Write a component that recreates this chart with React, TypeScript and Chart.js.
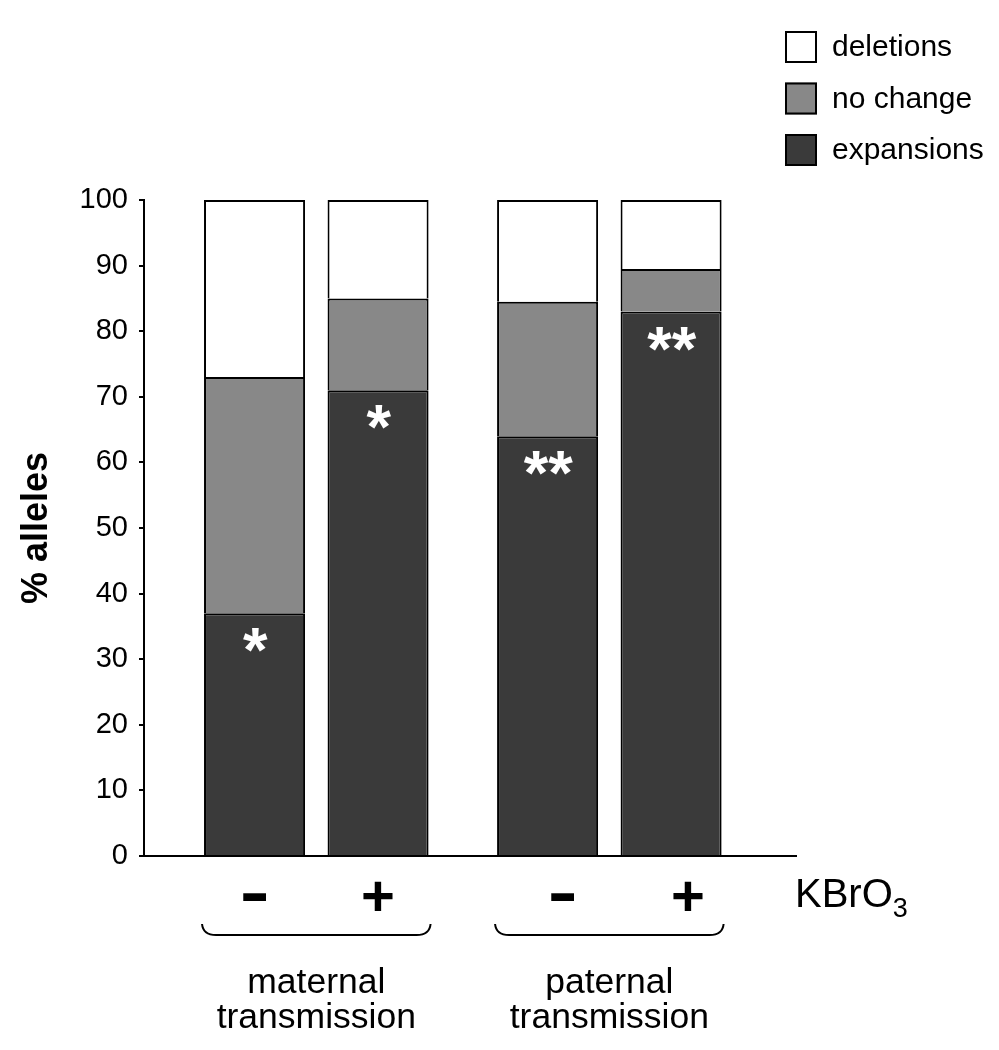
import React, { useEffect, useRef } from "react";
import { Chart, registerables } from "chart.js";

Chart.register(...registerables);

// ---- data ----
const groupLabels = [["maternal", "transmission"], ["paternal", "transmission"]];
const treatments = ["-", "+"]; // KBrO3 absent / present
const seriesNames = ["expansions", "no change", "deletions"];
const seriesColors = ["#3a3a3a", "#888888", "#ffffff"];

// values per group [maternal, paternal]
const expansionsMinus = [37, 64];
const expansionsPlus = [71, 83];
const noChangeMinus = [36, 20.5];
const noChangePlus = [14, 6.5];
const deletionsMinus = [27, 15.5];
const deletionsPlus = [15, 10.5];

const significanceMinus = ["*", "**"];
const significancePlus = ["*", "**"];

const yTicks = [0, 10, 20, 30, 40, 50, 60, 70, 80, 90, 100];
const yTitle = "% alleles";
const treatmentTitle = "KBrO";
const treatmentSub = "3";

const FONT = "'Liberation Sans', Arial, Helvetica, sans-serif";

const valuesBySeries: Record<string, number[][]> = {
  expansions: [expansionsMinus, expansionsPlus],
  "no change": [noChangeMinus, noChangePlus],
  deletions: [deletionsMinus, deletionsPlus],
};
const significance = [significanceMinus, significancePlus];

function centeredText(ctx: CanvasRenderingContext2D, s: string, cx: number, cy: number, sx = 1) {
  const m = ctx.measureText(s);
  const h = m.actualBoundingBoxAscent - m.actualBoundingBoxDescent;
  const w = m.actualBoundingBoxRight + m.actualBoundingBoxLeft;
  ctx.save();
  ctx.translate(cx, cy);
  ctx.scale(sx, 1);
  ctx.textAlign = "left";
  ctx.textBaseline = "alphabetic";
  ctx.fillText(s, -w / 2 + m.actualBoundingBoxLeft, h / 2);
  ctx.restore();
}

const decorPlugin = {
  id: "decor",
  afterDatasetsDraw(chart: any) {
    const ctx: CanvasRenderingContext2D = chart.ctx;
    const area = chart.chartArea;
    // dataset index = t * 3 + s ; s = 0 is expansions (bottom segment)
    const barAt = (t: number, g: number) => chart.getDatasetMeta(t * 3 + 0).data[g];

    // significance asterisks
    ctx.save();
    ctx.fillStyle = "#ffffff";
    ctx.font = `bold 63px ${FONT}`;
    treatments.forEach((_, t) => {
      groupLabels.forEach((_, g) => {
        const b: any = barAt(t, g);
        centeredText(ctx, significance[t][g], b.x + 1, b.y + 27);
      });
    });
    ctx.restore();

    // treatment labels, braces, group labels
    ctx.save();
    ctx.fillStyle = "#000";
    ctx.strokeStyle = "#000";
    groupLabels.forEach((lines, g) => {
      const bm: any = barAt(0, g);
      const bp: any = barAt(1, g);
      ctx.font = `bold 64px ${FONT}`;
      centeredText(ctx, treatments[0], bm.x, area.bottom + 41, 1.4);
      ctx.font = `bold 58px ${FONT}`;
      centeredText(ctx, treatments[1], bp.x, area.bottom + 40);

      const left = bm.x - bm.width / 2 - 2;
      const right = bp.x + bp.width / 2 + 2;
      const yTop = area.bottom + 68;
      const yLine = area.bottom + 79;
      ctx.lineWidth = 2;
      ctx.beginPath();
      ctx.moveTo(left, yTop);
      ctx.quadraticCurveTo(left + 1, yLine, left + 14, yLine);
      ctx.lineTo(right - 14, yLine);
      ctx.quadraticCurveTo(right - 1, yLine, right, yTop);
      ctx.stroke();

      const cx = (bm.x + bp.x) / 2;
      ctx.font = `35.5px ${FONT}`;
      ctx.textAlign = "center";
      ctx.textBaseline = "alphabetic";
      lines.forEach((ln, i) => ctx.fillText(ln, cx, area.bottom + 137 + i * 35));
    });

    // KBrO3
    ctx.font = `40px ${FONT}`;
    ctx.textAlign = "left";
    ctx.textBaseline = "alphabetic";
    const kx = area.right - 1;
    ctx.fillText(treatmentTitle, kx, area.bottom + 51);
    const kw = ctx.measureText(treatmentTitle).width;
    ctx.font = `27px ${FONT}`;
    ctx.fillText(treatmentSub, kx + kw, area.bottom + 61);
    ctx.restore();

    // legend (top right, vertical)
    ctx.save();
    const lx = 785;
    const ly = 31;
    const box = 32;
    const gap = 51.5;
    const order = [2, 1, 0];
    order.forEach((s, i) => {
      const y = ly + i * gap;
      ctx.fillStyle = seriesColors[s];
      ctx.fillRect(lx, y, box, box);
      ctx.lineWidth = 2;
      ctx.strokeStyle = "#000";
      ctx.strokeRect(lx + 1, y + 1, box - 2, box - 2);
      ctx.fillStyle = "#000";
      ctx.font = `30px ${FONT}`;
      ctx.textAlign = "left";
      ctx.textBaseline = "middle";
      ctx.fillText(seriesNames[s], lx + 47, y + box / 2 + 1);
    });
    ctx.restore();
  },
};

export default function App() {
  const ref = useRef<HTMLCanvasElement | null>(null);
  useEffect(() => {
    if (!ref.current) return;
    const datasets: any[] = [];
    treatments.forEach((t, ti) => {
      seriesNames.forEach((s, si) => {
        datasets.push({
          label: s,
          stack: t,
          data: groupLabels.map((_, g) => ({ x: g, y: valuesBySeries[s][ti][g] })),
          backgroundColor: seriesColors[si],
          borderColor: "#000",
          borderWidth: 2,
          borderSkipped: "start",
          categoryPercentage: 0.843,
          barPercentage: 0.818,
        });
      });
    });
    const chart = new Chart(ref.current, {
      type: "bar",
      data: { datasets },
      options: {
        animation: false,
        responsive: false,
        devicePixelRatio: 1,
        layout: { padding: { top: 200, right: 203, bottom: 194, left: 0 } },
        plugins: { legend: { display: false }, tooltip: { enabled: false } },
        scales: {
          x: {
            type: "linear",
            offset: false,
            min: -0.588,
            max: 1.637,
            afterBuildTicks: (scale: any) => {
              scale.ticks = groupLabels.map((_, g) => ({ value: g }));
            },
            afterFit: (scale: any) => {
              scale.height = 0;
            },
            ticks: { display: false },
            grid: { display: false },
            border: { display: true, color: "#000", width: 2 },
          },
          y: {
            stacked: true,
            min: 0,
            max: 100,
            afterBuildTicks: (scale: any) => {
              scale.ticks = yTicks.map((v) => ({ value: v }));
            },
            afterFit: (scale: any) => {
              scale.width = 144;
            },
            ticks: {
              color: "#000",
              padding: 11,
              font: { family: FONT, size: 29 },
            },
            grid: {
              display: true,
              drawOnChartArea: false,
              drawTicks: true,
              tickLength: 5,
              color: "#000",
              lineWidth: 2,
            },
            border: { display: true, color: "#000", width: 2 },
            title: {
              display: true,
              text: yTitle,
              color: "#000",
              font: { family: FONT, size: 36, weight: "bold" },
              padding: { top: 15, bottom: 0 },
            },
          },
        },
      },
      plugins: [decorPlugin],
    });
    return () => chart.destroy();
  }, []);
  return (
    <div style={{ position: "absolute", left: 0, top: 0, width: 999, height: 1050, background: "#fff" }}>
      <canvas ref={ref} width={999} height={1050} />
    </div>
  );
}
